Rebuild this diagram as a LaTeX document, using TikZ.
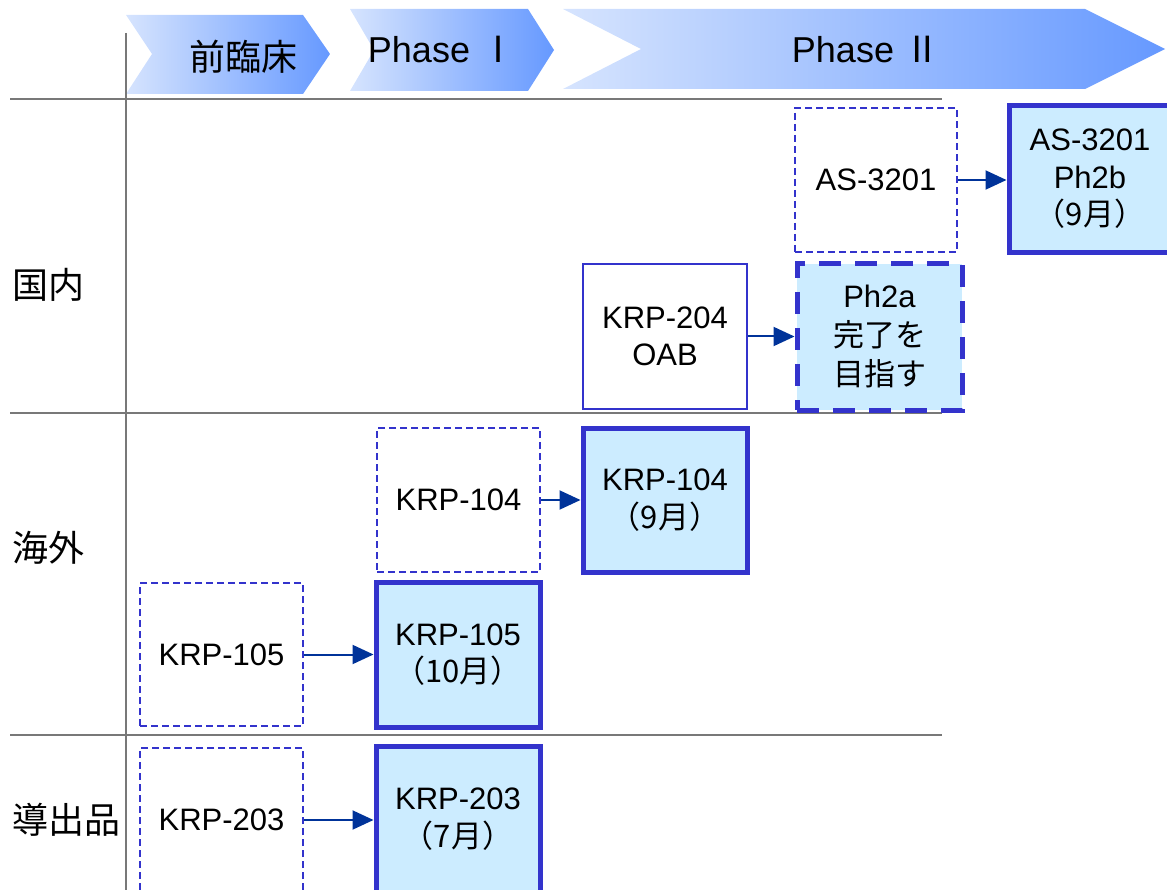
\documentclass[tikz,border=0pt]{standalone}
\usepackage{fontspec}
\setmainfont{Liberation Sans}
\newfontfamily\jp{Noto Sans CJK JP}
\usetikzlibrary{arrows.meta}
\definecolor{gridgray}{RGB}{120,120,120}
\definecolor{boxblue}{RGB}{51,51,204}
\definecolor{fillblue}{RGB}{204,236,255}
\definecolor{arrowblue}{RGB}{0,51,153}
\definecolor{chevL}{RGB}{214,228,254}
\definecolor{chevR}{RGB}{102,153,255}
\tikzset{
  gridline/.style={draw=gridgray,line width=2},
  txt/.style={font=\fontsize{31}{37.5}\selectfont,align=center,inner sep=0pt},
  plan/.style={txt,draw=boxblue,line width=1.5,dash pattern=on 7pt off 4pt,fill=white},
  done/.style={txt,draw=boxblue,line width=5,fill=fillblue},
  solidthin/.style={txt,draw=boxblue,line width=1.5,fill=white},
  target/.style={txt,font=\fontsize{31}{39}\selectfont,draw=boxblue,line width=5,dash pattern=on 22pt off 14pt,fill=fillblue},
  conn/.style={draw=arrowblue,line width=2,-{Triangle[length=21pt,width=19pt]}},
  rowlab/.style={font=\jp\fontsize{36}{40}\selectfont,inner sep=0pt},
  phaselab/.style={font=\fontsize{36}{40}\selectfont,inner sep=0pt}
}
\begin{document}
\begin{tikzpicture}[x=1pt,y=-1pt]
\useasboundingbox (0,0) rectangle (1167,890);
% chevrons
\shade[left color=chevL,right color=chevR] (126,15) -- (303,15) -- (330,54) -- (303,94) -- (126,94) -- (152,54) -- cycle;
\shade[left color=chevL,right color=chevR] (350,9) -- (528,9) -- (554,50) -- (528,91) -- (350,91) -- (374,50) -- cycle;
\shade[left color=chevL,right color=chevR] (563,9) -- (1085,9) -- (1165,49) -- (1085,89) -- (563,89) -- (641,49) -- cycle;
\node[phaselab,font=\jp\fontsize{36}{40}\selectfont] (p0) at (243,57) {前臨床};
\node[phaselab] (p1) at (442,50) {Phase {\jp Ⅰ}};
\node[phaselab] (p2) at (866,50) {Phase {\jp Ⅱ}};
% grid
\draw[gridline] (126,33) -- (126,890);
\draw[gridline] (10,99) -- (942,99);
\draw[gridline] (10,413) -- (942,413);
\draw[gridline] (10,735) -- (942,735);
% row labels
\node[rowlab,anchor=west] (r1) at (12,285) {国内};
\node[rowlab,anchor=west] (r2) at (12,548) {海外};
\node[rowlab,anchor=west] (r3) at (12,820) {導出品};
% boxes
\node[plan,minimum width=162,minimum height=144] (as) at (876,180) {AS-3201};
\node[done,minimum width=162,minimum height=147] (asb) at (1090,179) {AS-3201\\Ph2b\\{\jp （9月）}};
\node[solidthin,minimum width=164,minimum height=145] (k204) at (665,336.5) {KRP-204\\OAB};
\node[target,minimum width=165,minimum height=146] (ph2a) at (879.5,337) {Ph2a\\{\jp 完了を}\\{\jp 目指す}};
\node[plan,minimum width=163,minimum height=144] (k104d) at (458.5,500) {KRP-104};
\node[done,minimum width=164,minimum height=144] (k104) at (665,500) {KRP-104\\{\jp （9月）}};
\node[plan,minimum width=163,minimum height=143] (k105d) at (221.5,654.5) {KRP-105};
\node[done,minimum width=164,minimum height=145] (k105) at (458,654.5) {KRP-105\\{\jp （10月）}};
\node[plan,minimum width=163,minimum height=144] (k203d) at (221.5,820) {KRP-203};
\node[done,minimum width=164,minimum height=146] (k203) at (458,819) {KRP-203\\{\jp （7月）}};
% connectors
\draw[conn] (as.east) -- (as.east -| asb.west);
\draw[conn] (k204.east) -- (k204.east -| ph2a.west);
\draw[conn] (k104d.east) -- (k104d.east -| k104.west);
\draw[conn] (k105d.east) -- (k105d.east -| k105.west);
\draw[conn] (k203d.east) -- (k203d.east -| k203.west);
\end{tikzpicture}
\end{document}
